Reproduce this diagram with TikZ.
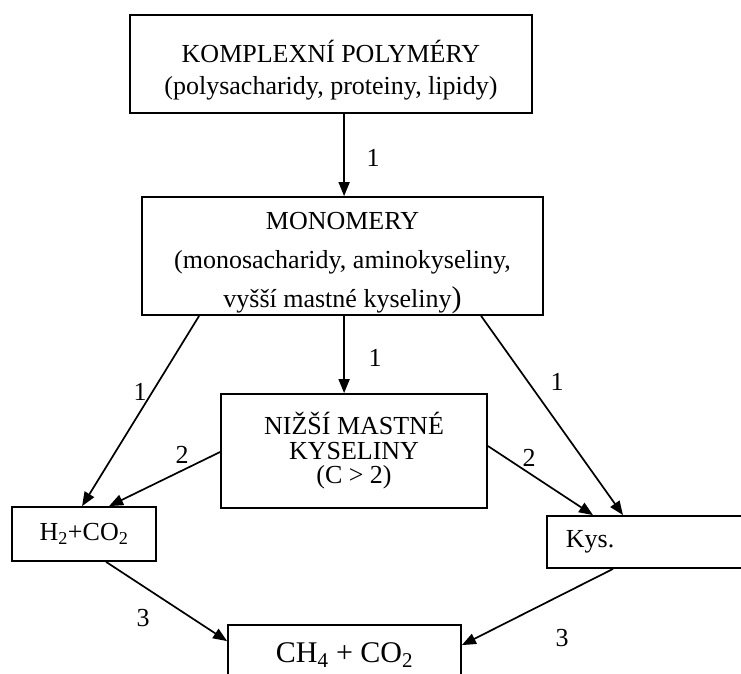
\documentclass[tikz,border=0pt]{standalone}
\usepackage{fontspec}
\setmainfont{Liberation Serif}
\usetikzlibrary{arrows.meta,calc}
\begin{document}
\begin{tikzpicture}[x=1pt,y=-1pt,
  box/.style={draw, line width=1.8pt, rectangle, inner sep=0pt, align=center, font=\fontsize{26}{30}\selectfont},
  txt/.style={inner sep=0pt, align=center, font=\fontsize{26}{30}\selectfont},
  arr/.style={-{Triangle[length=14pt,width=11pt]}, line width=1.7pt},
  lbl/.style={font=\fontsize{26}{30}\selectfont, inner sep=0pt}]
\clip (0,0) rectangle (741,673);
\fill[white] (0,0) rectangle (741,673);
\node[box, minimum width=402pt, minimum height=98pt] (poly) at (331,64) {};
\node[txt, font=\fontsize{26}{32}\selectfont] (polyt) at (poly.center) [yshift=-6pt]
  {KOMPLEXNÍ POLYMÉRY\\(polysacharidy, proteiny, lipidy)};
\node[box, minimum width=401pt, minimum height=118pt] (mono) at (342.5,256) {};
\node[txt, font=\fontsize{26}{39}\selectfont] (monot) at (mono.center) [yshift=-7pt]
  {MONOMERY\\(monosacharidy, aminokyseliny,\\vyšší mastné kyseliny{\fontsize{30}{39}\selectfont)}};
\node[box, minimum width=266pt, minimum height=114pt, font=\fontsize{26}{24.5}\selectfont] (nizsi) at (354,451)
  {NIŽŠÍ MASTNÉ\\KYSELINY\\(C > 2)};
\node[box, minimum width=144pt, minimum height=54pt] (h2) at (84,534)
  {H\textsubscript{2}+CO\textsubscript{2}};
\node[box, anchor=west, text width=181pt, inner xsep=19pt, align=left, minimum height=52pt] (kys) at (546,542)
  {Kys.};
\node[box, minimum width=233pt, minimum height=60pt, font=\fontsize{30}{34}\selectfont] (ch4) at (344.5,655)
  {CH\textsubscript{4} + CO\textsubscript{2}};

\draw[arr] ($(poly.south west)+(215,0)$) -- ($(mono.north west)+(203,0)$);
\draw[arr] ($(mono.south west)+(203,0)$) -- ($(nizsi.north west)+(124,0)$);
\draw[arr] ($(mono.south west)+(58,0)$) -- ($(h2.north west)+(71,0)$);
\draw[arr] ($(nizsi.west)+(0,1)$) -- ($(h2.north west)+(98,0)$);
\draw[arr] ($(mono.south west)+(340,0)$) -- ($(kys.north west)+(77,0)$);
\draw[arr] ($(nizsi.east)+(0,-5)$) -- ($(kys.north west)+(47,0)$);
\draw[arr] ($(h2.south west)+(95,0)$) -- ($(ch4.north west)+(0,17)$);
\draw[arr] ($(kys.south west)+(67,0)$) -- ($(ch4.north east)+(0,21)$);

\node[lbl] (l1) at (373,158) {1};
\node[lbl] (l2) at (375,358) {1};
\node[lbl] (l3) at (140,392) {1};
\node[lbl] (l4) at (182,455) {2};
\node[lbl] (l5) at (557,382) {1};
\node[lbl] (l6) at (529,458) {2};
\node[lbl] (l7) at (143,618) {3};
\node[lbl] (l8) at (562,638) {3};
\end{tikzpicture}
\end{document}
